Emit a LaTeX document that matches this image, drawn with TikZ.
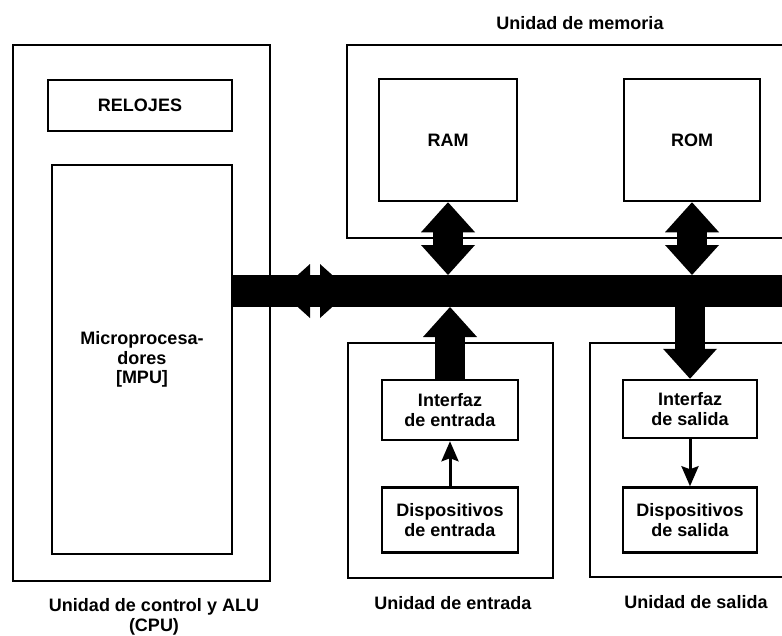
\documentclass[tikz,border=0pt]{standalone}
\usepackage{fontspec}
\setmainfont{Liberation Sans}
\usetikzlibrary{positioning,arrows.meta}
\newcommand{\unitfont}{\fontsize{18}{19.5}\selectfont\bfseries}
\tikzset{%
unit/.style={draw,rectangle,line width=2.5pt,inner sep=0},
block/.style={draw,rectangle,line width=2.5pt,align=center,inner sep=0,font=\unitfont},
caption/.style={align=center,inner sep=0,font=\unitfont},
bus/.style={fill,rectangle,inner sep=0,outer sep=0},
bigarrow/.style={line width=30pt,{Triangle[length=30pt,width=54pt,line width=0pt]}-{Triangle[length=30pt,width=54pt,line width=0pt]}},
bigup/.style={line width=30pt,-{Triangle[length=30pt,width=54pt,line width=0pt]}},
thinarrow/.style={line width=3pt,-{Stealth[length=20pt,width=17pt,inset=3pt]}}
}

\begin{document}
\begin{tikzpicture}[x=1pt,y=-1pt]

    \useasboundingbox (0,0) rectangle (782,635);
    \clip (0,0) rectangle (782,635);

    % control unit and ALU
    \node[unit,minimum width=257pt,minimum height=536pt] (cpu) at (141.5,313) {};
    \node[block,minimum width=184pt,minimum height=51pt] (relojes) at (140,105.5) {RELOJES};
    \node[block,minimum width=180pt,minimum height=389pt] (mpu) at (142,359.5)
        {Microprocesa-\\dores\\{[MPU]}};

    % memory
    \node[unit,minimum width=453pt,minimum height=193pt] (mem) at (573.5,141.5) {};
    \node[block,minimum width=138pt,minimum height=122pt] (ram) at (448,140) {RAM};
    \node[block,minimum width=136pt,minimum height=122pt] (rom) at (692,140) {ROM};

    % input
    \node[unit,minimum width=205pt,minimum height=235pt] (inunit) at (450.5,460.5) {};
    \node[block,minimum width=136pt,minimum height=60pt] (ient) at (450,410) {Interfaz\\de entrada};
    \node[block,minimum width=136pt,minimum height=65pt] (dent) [below=45pt of ient] {Dispositivos\\de entrada};

    % output
    \node[unit,minimum width=210pt,minimum height=234pt] (outunit) at (695,460) {};
    \node[block,minimum width=134pt,minimum height=58pt] (isal) at (690,409) {Interfaz\\de salida};
    \node[block,minimum width=134pt,minimum height=65pt] (dsal) [below=47pt of isal] {Dispositivos\\de salida};

    \node[caption] (lmem) at (580,23) {Unidad de memoria};
    \node[caption] (lcpu) at (154,617) {Unidad de control y ALU\\(CPU)};
    \node[caption] (lent) at (453,603) {Unidad de entrada};
    \node[caption] (lsal) at (696,602) {Unidad de salida};

    % bus
    \coordinate (busy) at (0,291);
    \node[bus,minimum width=570pt,minimum height=32pt,anchor=west] (bus) at (mpu.east |- busy) {};
    \coordinate (busl) at (280,291);
    \coordinate (busr) at (350,291);

    \draw[bigarrow] (busl) -- (busr);
    \draw[bigarrow] (ram.south) -- (ram.south |- bus.north);
    \draw[bigarrow] (rom.south) -- (rom.south |- bus.north);
    \draw[bigup] (ient.north) -- (ient.north |- bus.south);
    \draw[bigup] (isal.north |- bus.south) -- (isal.north);

    \draw[thinarrow] (dent) -- (ient);
    \draw[thinarrow] (isal) -- (dsal);

\end{tikzpicture}
\end{document}
